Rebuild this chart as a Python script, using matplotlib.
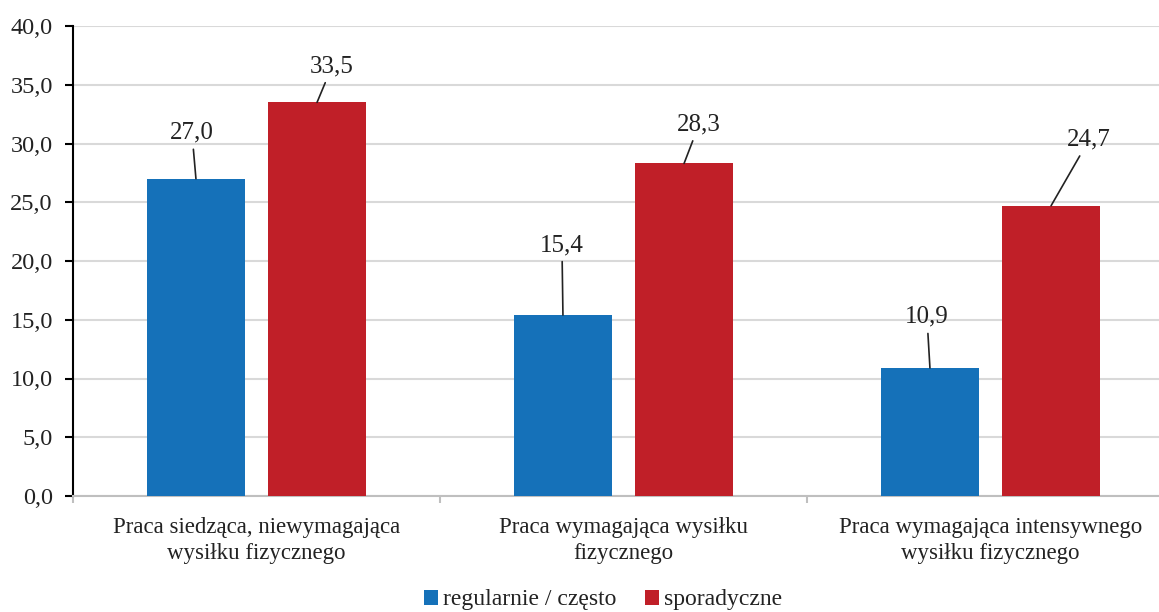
import matplotlib
matplotlib.use("Agg")
import matplotlib.pyplot as plt
import numpy as np

plt.rcParams['font.family'] = ['Liberation Serif', 'DejaVu Serif']

categories = ["Praca siedząca, niewymagająca\nwysiłku fizycznego",
              "Praca wymagająca wysiłku\nfizycznego",
              "Praca wymagająca intensywnego\nwysiłku fizycznego"]
series_names = ["regularnie / często", "sporadyczne"]
regularnie = [27.0, 15.4, 10.9]
sporadyczne = [33.5, 28.3, 24.7]
yticks = [0, 5, 10, 15, 20, 25, 30, 35, 40]

# label offsets (pixels) for leader-line labels
off_reg = [(-4, 46), (-1, 70), (-3, 51)]
off_spo = [(15, 36), (15, 39), (38, 66)]

colors = ["#1571B9", "#C01F28"]
tc = "#222222"

fig = plt.figure(figsize=(11.59, 6.12), dpi=100)
ax = fig.add_axes([73/1159, 116/612, 1 - 73/1159, 470/612])

x = np.arange(len(categories))
w = 0.267
d = 0.165
b1 = ax.bar(x - d, regularnie, w, color=colors[0], label=series_names[0], zorder=3)
b2 = ax.bar(x + d, sporadyczne, w, color=colors[1], label=series_names[1], zorder=3)

ax.set_yticks(yticks)
ax.set_yticklabels([f"{v:.1f}".replace('.', ',') for v in yticks], fontsize=17.5, color=tc)
ax.yaxis.grid(True, color="#D9D9D9", linewidth=1.5, zorder=0)
ax.set_axisbelow(True)

ax.set_xticks(x)
ax.set_xticklabels(categories, fontsize=16.5, color=tc)
for t in ax.get_xticklabels():
    t.set_linespacing(1.33)
ax.tick_params(axis='x', which='major', length=0, pad=15)
ax.set_xticks([-0.5, 0.5, 1.5, 2.5], minor=True)
ax.tick_params(axis='x', which='minor', length=5, color="#BFBFBF", width=1.5)
ax.tick_params(axis='y', length=6, width=1.5, color="black", pad=8.5)

ax.set_ylim(0, 40)
ax.set_xlim(-0.5, -0.5 + (1159 - 73) / 367)

for s in ['top', 'right']:
    ax.spines[s].set_visible(False)
ax.spines['left'].set_color('black')
ax.spines['left'].set_linewidth(1.5)
ax.spines['bottom'].set_color('#BFBFBF')
ax.spines['bottom'].set_linewidth(1.5)

def fmt(v):
    return f"{v:.1f}".replace('.', ',')

for xs, vals, offs in ((x - d, regularnie, off_reg), (x + d, sporadyczne, off_spo)):
    for xi, v, off in zip(xs, vals, offs):
        ax.annotate(fmt(v), xy=(xi, v), xytext=off, textcoords='offset pixels',
                    ha='center', va='center', fontsize=18, color=tc,
                    arrowprops=dict(arrowstyle='-', color='#222222', lw=1.2,
                                    shrinkA=2, shrinkB=0), zorder=4)

fig.legend(handles=[b1, b2], labels=series_names, loc='center',
           bbox_to_anchor=(603/1159, 1 - 600/612), ncol=2, frameon=False,
           fontsize=17, handlelength=0.6, handleheight=0.6, handletextpad=0.2,
           columnspacing=1.2, labelcolor=tc)

fig.savefig("out.png", dpi=100)
